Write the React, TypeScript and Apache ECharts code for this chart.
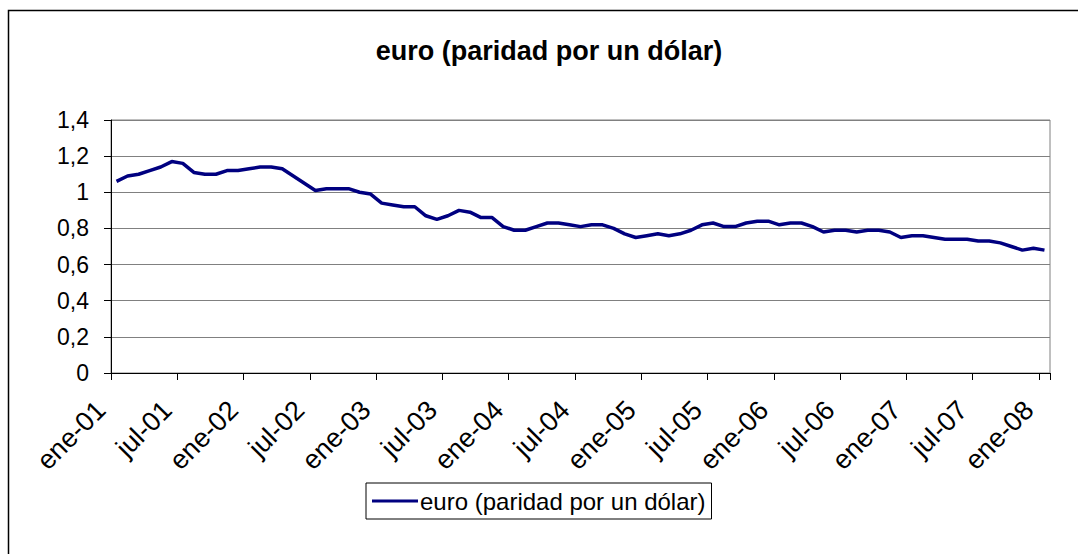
import React, { useEffect, useRef } from "react";
import * as echarts from "echarts";

const monthNames = ["ene", "feb", "mar", "abr", "may", "jun", "jul", "ago", "sep", "oct", "nov", "dic"];
const years = ["01", "02", "03", "04", "05", "06", "07", "08"];

const values2001 = [1.06, 1.09, 1.10, 1.12, 1.14, 1.17, 1.16, 1.11, 1.10, 1.10, 1.12, 1.12];
const values2002 = [1.13, 1.14, 1.14, 1.13, 1.09, 1.05, 1.01, 1.02, 1.02, 1.02, 1.00, 0.99];
const values2003 = [0.94, 0.93, 0.92, 0.92, 0.87, 0.85, 0.87, 0.90, 0.89, 0.86, 0.86, 0.81];
const values2004 = [0.79, 0.79, 0.81, 0.83, 0.83, 0.82, 0.81, 0.82, 0.82, 0.80, 0.77, 0.75];
const values2005 = [0.76, 0.77, 0.76, 0.77, 0.79, 0.82, 0.83, 0.81, 0.81, 0.83, 0.84, 0.84];
const values2006 = [0.82, 0.83, 0.83, 0.81, 0.78, 0.79, 0.79, 0.78, 0.79, 0.79, 0.78, 0.75];
const values2007 = [0.76, 0.76, 0.75, 0.74, 0.74, 0.74, 0.73, 0.73, 0.72, 0.70, 0.68, 0.69];
const values2008 = [0.68];

const seriesName = "euro (paridad por un dólar)";
const titleText = "euro (paridad por un dólar)";

const categories: string[] = [];
years.forEach((y) => {
  monthNames.forEach((m) => {
    if (y === "08" && m !== "ene") return;
    categories.push(`${m}-${y}`);
  });
});

const values = [
  ...values2001,
  ...values2002,
  ...values2003,
  ...values2004,
  ...values2005,
  ...values2006,
  ...values2007,
  ...values2008,
];

const FONT = "'Liberation Sans', Arial, sans-serif";

export default function App() {
  const ref = useRef<HTMLDivElement>(null);
  useEffect(() => {
    if (!ref.current) return;
    const chart = echarts.init(ref.current, undefined, { renderer: "svg" });
    chart.setOption({
      animation: false,
      backgroundColor: "#ffffff",
      textStyle: { fontFamily: FONT },
      title: {
        text: titleText,
        left: 544,
        textAlign: "center",
        top: 32,
        textStyle: { fontFamily: FONT, fontSize: 27, fontWeight: "bold", color: "#000" },
      },
      graphic: [
        {
          type: "rect",
          shape: { x: 8.5, y: 10.5, width: 1100, height: 600 },
          style: { fill: "none", stroke: "#000", lineWidth: 1.5 },
          z: 100,
        },
      ],
      legend: {
        data: [seriesName],
        left: 366,
        top: 483,
        icon: "rect",
        itemWidth: 46,
        itemHeight: 3,
        itemGap: 4,
        padding: [6, 6, 6, 6],
        borderColor: "#000",
        borderWidth: 1,
        textStyle: { fontFamily: FONT, fontSize: 24, color: "#000", padding: [0, 0, 0, -3] },
      },
      grid: {
        left: 111,
        right: 28,
        top: 120,
        bottom: 181,
        show: true,
        borderColor: "#808080",
        borderWidth: 1,
        backgroundColor: "#fff",
      },
      xAxis: {
        type: "category",
        data: categories,
        boundaryGap: true,
        axisLine: { show: true, lineStyle: { color: "#000", width: 1 } },
        axisTick: { show: true, interval: 5, length: 7, lineStyle: { color: "#000" } },
        axisLabel: {
          interval: 5,
          rotate: 45,
          fontSize: 27,
          color: "#000",
          fontFamily: FONT,
          margin: 17,
          padding: [0, 22, 0, 0],
        },
        splitLine: { show: false },
      },
      yAxis: {
        type: "value",
        min: 0,
        max: 1.4,
        interval: 0.2,
        axisLine: { show: true, lineStyle: { color: "#000", width: 1 } },
        axisTick: { show: true, length: 7, lineStyle: { color: "#000" } },
        axisLabel: {
          fontSize: 23,
          color: "#000",
          fontFamily: FONT,
          margin: 22,
          formatter: (v: number) => (Math.round(v * 10) / 10).toString().replace(".", ","),
        },
        splitLine: { show: true, lineStyle: { color: "#808080", width: 1 } },
      },
      series: [
        {
          name: seriesName,
          type: "line",
          data: values,
          symbol: "none",
          lineStyle: { color: "#000080", width: 3.5 },
          itemStyle: { color: "#000080" },
        },
      ],
    });
    return () => chart.dispose();
  }, []);
  return <div ref={ref} style={{ position: "fixed", left: 0, top: 0, width: 1078, height: 554 }} />;
}
